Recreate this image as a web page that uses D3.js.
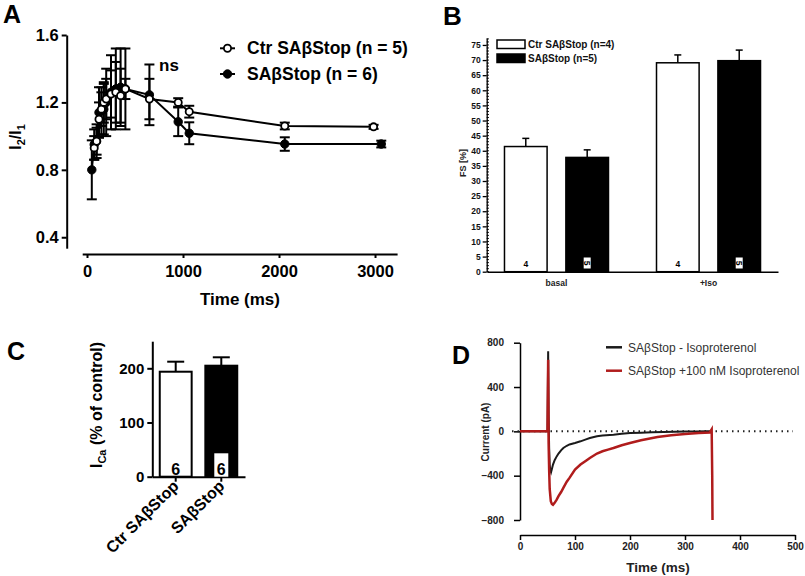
<!DOCTYPE html>
<html><head><meta charset="utf-8">
<script src="https://cdn.jsdelivr.net/npm/d3@7"></script>
<style>
body{margin:0;background:#fff;}
svg{display:block;font-family:"Liberation Sans",Arial,Helvetica,sans-serif;}
</style></head><body>
<svg id="c" width="805" height="576"></svg>
<script>
// ---------- Panel A data ----------
const aCtrTime = [75,100,125,150,175,200,250,300,350,400,650,950,1065,2060,2985];
const aCtrMean = [0.93,0.97,1.10,1.16,1.20,1.22,1.25,1.26,1.24,1.28,1.22,1.20,1.145,1.06,1.055];
const aCtrErr  = [0.07,0.08,0.10,0.10,0.12,0.12,0.14,0.18,0.16,0.06,0.12,0.025,0.035,0.02,0.012];
const aSaTime  = [50,75,100,125,150,175,200,250,300,350,400,650,950,1065,2060,3065];
const aSaMean  = [0.80,0.95,0.97,1.14,1.15,1.16,1.20,1.26,1.28,1.29,1.28,1.245,1.085,1.017,0.953,0.953];
const aSaErr   = [0.175,0.09,0.10,0.15,0.14,0.15,0.20,0.22,0.24,0.23,0.24,0.18,0.085,0.065,0.04,0.02];
const aYTicks  = [0.4,0.8,1.2,1.6];
const aXTicks  = [0,1000,2000,3000];
const aLegend  = ["Ctr SAβStop (n = 5)","SAβStop (n = 6)"];

// ---------- Panel B data ----------
const bGroups  = ["basal","+Iso"];
const bSeries  = ["Ctr SAβStop (n=4)","SAβStop (n=5)"];
const bCtr     = [41.4,69.1];
const bCtrErr  = [2.7,2.6];
const bSa      = [37.8,69.8];
const bSaErr   = [2.5,3.5];
const bCounts  = ["4","5"];
const bYTicks  = d3.range(0,80,5);

// ---------- Panel C data ----------
const cCats    = ["Ctr SAβStop","SAβStop"];
const cMean    = [193.7,204.8];
const cErr     = [18.5,15.5];
const cN       = ["6","6"];
const cYTicks  = [0,100,200];

// ---------- Panel D data ----------
const dBlackT = [0,50,51.2,51.5,52,53,54,55,56.4,58,60,63,66.7,70,75,78.8,85,90,100,110,120,127,140,150,170,185,200,220,240,261,280,300,320,340,348];
const dBlackV = [0,0,722,500,150,-150,-300,-350,-370,-340,-300,-260,-226,-200,-170,-150,-130,-118,-105,-90,-72,-60,-45,-38,-30,-22,-15,-12,-8,-5,-3,-2,-1,0,0];
const dRedT   = [0,50,51.2,51.6,52,53,54,56,58,60,63,66.7,70,75,78.8,85,90,100,110,120,127,140,150,160,170,185,200,220,250,275,300,325,345,348.5,349.5,350];
const dRedV   = [0,0,647,300,-100,-350,-520,-630,-655,-662,-645,-616,-585,-545,-511,-455,-420,-345,-300,-265,-240,-200,-180,-165,-150,-125,-105,-80,-51,-36,-24,-15,-10,18,-400,-800];
const dYTicks = [-800,-400,0,400,800];
const dXTicks = [0,100,200,300,400,500];
const dLegend = ["SAβStop - Isoproterenol","SAβStop +100 nM Isoproterenol"];
const dColors = ["#1a1a1a","#b01c1c"];

const svg = d3.select("#c");
const BOLD = "bold";

function styleAxis(g, w, fs, weight, color){
  g.selectAll("path.domain").attr("stroke","#000").attr("stroke-width",w);
  g.selectAll(".tick line").attr("stroke","#000").attr("stroke-width",w);
  g.selectAll(".tick text").attr("font-size",fs).attr("font-weight",weight).attr("fill",color||"#000")
    .attr("font-family","'Liberation Sans',Arial,sans-serif");
}
function panelLabel(t,x,y,fs){
  svg.append("text").attr("x",x).attr("y",y).attr("font-size",fs).attr("font-weight","bold").text(t);
}

// ================= PANEL A =================
{
  const x = d3.scaleLinear([-50,3230],[82.2,397.1]);
  const y = d3.scaleLinear([0.335,1.6],[248.2,35]);
  const g = svg.append("g");
  const ya = g.append("g").attr("transform","translate(66.7,0)")
    .call(d3.axisLeft(y).tickValues(aYTicks).tickFormat(d3.format(".1f")).tickSize(5).tickSizeOuter(0).tickPadding(3));
  styleAxis(ya,2,"16.5px",BOLD);
  const xa = g.append("g").attr("transform","translate(0,254)")
    .call(d3.axisBottom(x).tickValues(aXTicks).tickFormat(d3.format("d")).tickSize(4).tickSizeOuter(0).tickPadding(7));
  styleAxis(xa,2,"16.5px",BOLD);
  g.append("text").attr("x",240).attr("y",305).attr("text-anchor","middle")
    .attr("font-size","17px").attr("font-weight","bold").text("Time (ms)");
  const yl = g.append("text").attr("transform","translate(21,137) rotate(-90)").attr("text-anchor","middle")
    .attr("font-size","16px").attr("font-weight","bold");
  yl.append("tspan").text("I");
  yl.append("tspan").attr("font-size","11px").attr("dy",4).text("2");
  yl.append("tspan").attr("dy",-4).text("/I");
  yl.append("tspan").attr("font-size","11px").attr("dy",4).text("1");

  const series = [
    {t:aSaTime,m:aSaMean,e:aSaErr,open:false},
    {t:aCtrTime,m:aCtrMean,e:aCtrErr,open:true}
  ];
  const line = d3.line().x(d=>x(d.t)).y(d=>y(d.m));
  series.forEach(s=>{
    const pts = s.t.map((t,i)=>({t,m:s.m[i],e:s.e[i]}));
    g.append("path").datum(pts).attr("d",line).attr("fill","none").attr("stroke","#000").attr("stroke-width",2);
    const eb = g.append("g").selectAll("g").data(pts).join("g");
    eb.append("line").attr("x1",d=>x(d.t)).attr("x2",d=>x(d.t)).attr("y1",d=>y(d.m-d.e)).attr("y2",d=>y(d.m+d.e))
      .attr("stroke","#000").attr("stroke-width",2);
    [-1,1].forEach(sg=>{
      eb.append("line").attr("x1",d=>x(d.t)-5).attr("x2",d=>x(d.t)+5)
        .attr("y1",d=>y(d.m+sg*d.e)).attr("y2",d=>y(d.m+sg*d.e)).attr("stroke","#000").attr("stroke-width",2);
    });
    s.pts = pts;
  });
  series.forEach(s=>{
    g.append("g").selectAll("circle").data(s.pts).join("circle")
      .attr("cx",d=>x(d.t)).attr("cy",d=>y(d.m)).attr("r",s.open?3.6:4.2)
      .attr("fill",s.open?"#fff":"#000").attr("stroke","#000").attr("stroke-width",s.open?1.8:1);
  });
  g.append("text").attr("x",159).attr("y",71).attr("font-size","17px").attr("font-weight","bold").text("ns");
  // legend
  aLegend.forEach((t,i)=>{
    const ly = 48.3 + i*25.7;
    g.append("line").attr("x1",220).attr("x2",235).attr("y1",ly).attr("y2",ly).attr("stroke","#000").attr("stroke-width",2);
    g.append("circle").attr("cx",227.5).attr("cy",ly).attr("r",i===0?3.6:4.2)
      .attr("fill",i===0?"#fff":"#000").attr("stroke","#000").attr("stroke-width",i===0?1.8:1);
    g.append("text").attr("x",247).attr("y",ly+6).attr("font-size","17.5px").attr("font-weight","bold").text(t);
  });
  panelLabel("A",3,23,"25px");
}

// ================= PANEL B =================
{
  const y = d3.scaleLinear([0,77.3],[271.7,38]);
  const x0 = d3.scaleBand(bGroups,[487,778]).paddingInner(0.3158).paddingOuter(0.115);
  const x1 = d3.scaleBand([0,1],[0,x0.bandwidth()]).paddingInner(0.306).paddingOuter(0);
  const g = svg.append("g");
  g.append("g").selectAll("line").data(d3.range(0,78,1)).join("line")
    .attr("x1",486.7).attr("x2",488.9).attr("y1",d=>y(d)).attr("y2",d=>y(d)).attr("stroke","#000").attr("stroke-width",1);
  const ya = g.append("g").attr("transform","translate(486.7,0)")
    .call(d3.axisLeft(y).tickValues(bYTicks).tickSize(4).tickSizeOuter(0).tickPadding(2));
  styleAxis(ya,1.3,"8.5px",BOLD,"#111");
  const xa = g.append("g").attr("transform","translate(0,271.7)")
    .call(d3.axisBottom(x0).tickSize(0).tickSizeOuter(0).tickPadding(11));
  styleAxis(xa,1.5,"8.5px",BOLD,"#222");
  xa.selectAll(".tick text").attr("dy","0.4em");
  g.append("text").attr("transform","translate(466,163) rotate(-90)").attr("text-anchor","middle")
    .attr("font-size","9px").attr("font-weight","bold").attr("fill","#222").text("FS [%]");

  const vals = [bCtr,bSa], errs=[bCtrErr,bSaErr];
  bGroups.forEach((gr,gi)=>{
    [0,1].forEach(si=>{
      const bx = x0(gr)+x1(si), bw = x1.bandwidth(), v = vals[si][gi], e = errs[si][gi];
      const cx = bx+bw/2;
      g.append("line").attr("x1",cx).attr("x2",cx).attr("y1",y(v)).attr("y2",y(v+e)).attr("stroke","#000").attr("stroke-width",1.5);
      g.append("line").attr("x1",cx-3.5).attr("x2",cx+3.5).attr("y1",y(v+e)).attr("y2",y(v+e)).attr("stroke","#000").attr("stroke-width",1.5);
      g.append("rect").attr("x",bx).attr("y",y(v)).attr("width",bw).attr("height",y(0)-y(v))
        .attr("fill",si===0?"#fff":"#000").attr("stroke","#000").attr("stroke-width",1.5);
      if(si===0){
        g.append("text").attr("x",cx).attr("y",267).attr("text-anchor","middle").attr("font-size","8.5px")
          .attr("font-weight","bold").text(bCounts[si]);
      } else {
        g.append("rect").attr("x",cx-3.5).attr("y",257.5).attr("width",7).attr("height",11).attr("fill","#fff");
        g.append("text").attr("transform",`translate(${cx-3},263) rotate(90)`).attr("text-anchor","middle")
          .attr("font-size","8.5px").attr("font-weight","bold").text(bCounts[si]);
      }
    });
  });
  bSeries.forEach((t,i)=>{
    const ly = 40 + i*14;
    g.append("rect").attr("x",497).attr("y",ly).attr("width",28).attr("height",8.5)
      .attr("fill",i===0?"#fff":"#000").attr("stroke","#000").attr("stroke-width",1.5);
    g.append("text").attr("x",528).attr("y",ly+8).attr("font-size","10px").attr("font-weight","bold").attr("fill","#111").text(t);
  });
  panelLabel("B",443,25,"26px");
}

// ================= PANEL C =================
{
  const y = d3.scaleLinear([0,250],[476.7,341.2]);
  const x = d3.scaleBand(cCats,[152,245]).paddingInner(0.3).paddingOuter(0.17);
  const g = svg.append("g");
  const ya = g.append("g").attr("transform","translate(152.3,0)")
    .call(d3.axisLeft(y).tickValues(cYTicks).tickSize(5).tickSizeOuter(0).tickPadding(3));
  styleAxis(ya,2,"15px",BOLD);
  const xa = g.append("g").attr("transform","translate(0,476.7)")
    .call(d3.axisBottom(x).tickSize(5).tickSizeOuter(0).tickFormat(""));
  styleAxis(xa,2,"15px",BOLD);
  cCats.forEach((c,i)=>{
    const cx = x(c)+x.bandwidth()/2;
    g.append("text").attr("transform",`translate(${cx+4},487) rotate(-45)`).attr("text-anchor","end")
      .attr("font-size","16px").attr("font-weight","bold").text(c);
    const bx = x(c), bw = x.bandwidth();
    g.append("line").attr("x1",cx).attr("x2",cx).attr("y1",y(cMean[i])).attr("y2",y(cMean[i]+cErr[i])).attr("stroke","#000").attr("stroke-width",2);
    g.append("line").attr("x1",cx-8.5).attr("x2",cx+8.5).attr("y1",y(cMean[i]+cErr[i])).attr("y2",y(cMean[i]+cErr[i])).attr("stroke","#000").attr("stroke-width",2);
    g.append("rect").attr("x",bx).attr("y",y(cMean[i])).attr("width",bw).attr("height",y(0)-y(cMean[i]))
      .attr("fill",i===0?"#fff":"#000").attr("stroke","#000").attr("stroke-width",2);
    if(i===1) g.append("rect").attr("x",cx-7).attr("y",453.3).attr("width",14).attr("height",23.4).attr("fill","#fff");
    g.append("text").attr("x",cx).attr("y",475).attr("text-anchor","middle").attr("font-size","16px").attr("font-weight","bold").text(cN[i]);
  });
  const yl = g.append("text").attr("transform","translate(102,405) rotate(-90)").attr("text-anchor","middle")
    .attr("font-size","16px").attr("font-weight","bold");
  yl.append("tspan").text("I");
  yl.append("tspan").attr("font-size","11px").attr("dy",4).text("Ca");
  yl.append("tspan").attr("dy",-4).text(" (% of control)");
  panelLabel("C",7,360,"25px");
}

// ================= PANEL D =================
{
  const x = d3.scaleLinear([0,500],[520,795]);
  const y = d3.scaleLinear([-800,800],[520,342.7]);
  const g = svg.append("g");
  const ya = g.append("g").attr("transform","translate(520,0)")
    .call(d3.axisLeft(y).tickValues(dYTicks).tickSize(6).tickSizeOuter(0).tickPadding(10));
  styleAxis(ya,1.5,"10px",BOLD,"#222");
  const xa = g.append("g").attr("transform","translate(0,535)")
    .call(d3.axisBottom(x).tickValues(dXTicks).tickSize(5).tickSizeOuter(0).tickPadding(3));
  styleAxis(xa,1.5,"10px",BOLD,"#222");
  g.append("line").attr("x1",512).attr("x2",793).attr("y1",y(0)).attr("y2",y(0))
    .attr("stroke","#222").attr("stroke-width",2).attr("stroke-dasharray","1.5,4");
  const line = d3.line().x(d=>x(d[0])).y(d=>y(d[1]));
  g.append("path").datum(dBlackT.map((t,i)=>[t,dBlackV[i]])).attr("d",line)
    .attr("fill","none").attr("stroke",dColors[0]).attr("stroke-width",2);
  g.append("path").datum(dRedT.map((t,i)=>[t,dRedV[i]])).attr("d",line)
    .attr("fill","none").attr("stroke",dColors[1]).attr("stroke-width",2.5);
  g.append("text").attr("x",658).attr("y",572).attr("text-anchor","middle").attr("font-size","13.5px")
    .attr("font-weight","bold").attr("fill","#222").text("Time (ms)");
  g.append("text").attr("transform","translate(489,432) rotate(-90)").attr("text-anchor","middle")
    .attr("font-size","10px").attr("font-weight","bold").attr("fill","#222").text("Current (pA)");
  dLegend.forEach((t,i)=>{
    const ly = 347.3 + i*23.4;
    g.append("line").attr("x1",606).attr("x2",622).attr("y1",ly).attr("y2",ly).attr("stroke",dColors[i]).attr("stroke-width",2.5);
    g.append("text").attr("x",628).attr("y",ly+4.5).attr("font-size","12px").attr("fill","#333").text(t);
  });
  panelLabel("D",452,364,"25px");
}
</script>
</body></html>
